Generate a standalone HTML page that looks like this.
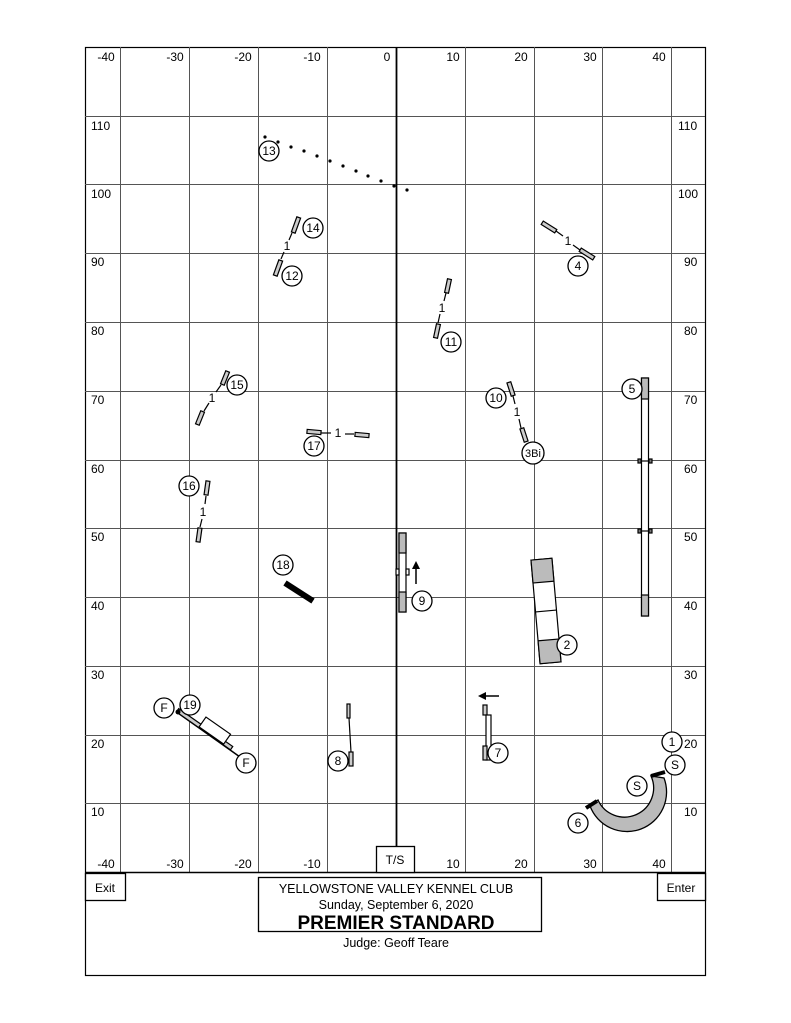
<!DOCTYPE html>
<html><head><meta charset="utf-8"><style>body{margin:0;background:#fff}svg{display:block}text{font-family:"Liberation Sans",sans-serif}</style></head><body>
<svg width="791" height="1023" viewBox="0 0 791 1023" xmlns="http://www.w3.org/2000/svg">
<rect x="85.5" y="47.5" width="620" height="928" fill="#fff" stroke="#000" stroke-width="1.2"/>
<g stroke="#555" stroke-width="1">
<line x1="120.5" y1="47" x2="120.5" y2="872"/><line x1="189.5" y1="47" x2="189.5" y2="872"/><line x1="258.5" y1="47" x2="258.5" y2="872"/><line x1="327.5" y1="47" x2="327.5" y2="872"/><line x1="465.5" y1="47" x2="465.5" y2="872"/><line x1="534.5" y1="47" x2="534.5" y2="872"/><line x1="602.5" y1="47" x2="602.5" y2="872"/><line x1="671.5" y1="47" x2="671.5" y2="872"/>
<line x1="85" y1="116.5" x2="705" y2="116.5"/><line x1="85" y1="184.5" x2="705" y2="184.5"/><line x1="85" y1="253.5" x2="705" y2="253.5"/><line x1="85" y1="322.5" x2="705" y2="322.5"/><line x1="85" y1="391.5" x2="705" y2="391.5"/><line x1="85" y1="460.5" x2="705" y2="460.5"/><line x1="85" y1="528.5" x2="705" y2="528.5"/><line x1="85" y1="597.5" x2="705" y2="597.5"/><line x1="85" y1="666.5" x2="705" y2="666.5"/><line x1="85" y1="735.5" x2="705" y2="735.5"/><line x1="85" y1="803.5" x2="705" y2="803.5"/>
</g>
<line x1="396.5" y1="47" x2="396.5" y2="846" stroke="#000" stroke-width="1.8"/>
<line x1="85" y1="872.5" x2="705" y2="872.5" stroke="#000" stroke-width="1.5"/>
<g font-size="12" fill="#000" text-anchor="middle">
<text x="106" y="61">-40</text><text x="175" y="61">-30</text><text x="243" y="61">-20</text><text x="312" y="61">-10</text><text x="387" y="61">0</text><text x="453" y="61">10</text><text x="521" y="61">20</text><text x="590" y="61">30</text><text x="659" y="61">40</text>
<text x="106" y="868">-40</text><text x="175" y="868">-30</text><text x="243" y="868">-20</text><text x="312" y="868">-10</text><text x="453" y="868">10</text><text x="521" y="868">20</text><text x="590" y="868">30</text><text x="659" y="868">40</text>
</g>
<g font-size="12" fill="#000">
<text x="91" y="130">110</text><text x="91" y="198">100</text><text x="91" y="266">90</text><text x="91" y="335">80</text><text x="91" y="404">70</text><text x="91" y="473">60</text><text x="91" y="541">50</text><text x="91" y="610">40</text><text x="91" y="679">30</text><text x="91" y="748">20</text><text x="91" y="816">10</text>
<text x="678" y="130">110</text><text x="678" y="198">100</text><text x="684" y="266">90</text><text x="684" y="335">80</text><text x="684" y="404">70</text><text x="684" y="473">60</text><text x="684" y="541">50</text><text x="684" y="610">40</text><text x="684" y="679">30</text><text x="684" y="748">20</text><text x="684" y="816">10</text>
</g>
<!-- 13 dotted -->
<g fill="#000">
<circle cx="265" cy="137" r="1.6"/><circle cx="278" cy="142" r="1.6"/><circle cx="291" cy="147" r="1.6"/><circle cx="304" cy="151" r="1.6"/><circle cx="317" cy="156" r="1.6"/><circle cx="330" cy="161" r="1.6"/><circle cx="343" cy="166" r="1.6"/><circle cx="356" cy="171" r="1.6"/><circle cx="368" cy="176" r="1.6"/><circle cx="381" cy="181" r="1.6"/><circle cx="394" cy="186" r="1.6"/><circle cx="407" cy="190" r="1.6"/>
</g>
<g stroke="#000" stroke-width="1.2" fill="#fff">
<!-- jumps -->
<rect x="-2" y="-8" width="4" height="16" transform="translate(296,225) rotate(20)" fill="#ccc"/>
<line x1="292" y1="233" x2="289" y2="240"/>
<rect x="-2" y="-8" width="4" height="16" transform="translate(278,268) rotate(20)" fill="#ccc"/>
<line x1="284" y1="252" x2="281" y2="259"/>
<rect x="-2" y="-8" width="4" height="16" transform="translate(549,227) rotate(-58)" fill="#ccc"/>
<line x1="556" y1="231" x2="563" y2="236"/>
<rect x="-2" y="-8" width="4" height="16" transform="translate(587,254) rotate(-58)" fill="#ccc"/>
<line x1="573" y1="245" x2="580" y2="250"/>
<rect x="-2" y="-7" width="4" height="14" transform="translate(448,286) rotate(12)" fill="#ccc"/>
<line x1="446" y1="293" x2="444" y2="301"/>
<rect x="-2" y="-7" width="4" height="14" transform="translate(437,331) rotate(12)" fill="#ccc"/>
<line x1="440" y1="314" x2="438" y2="323"/>
<rect x="-2" y="-7" width="4" height="14" transform="translate(225,378) rotate(22)" fill="#ccc"/>
<line x1="221" y1="385" x2="216" y2="392"/>
<rect x="-2" y="-7" width="4" height="14" transform="translate(200,418) rotate(22)" fill="#ccc"/>
<line x1="209" y1="403" x2="204" y2="411"/>
<rect x="-2" y="-7" width="4" height="14" transform="translate(511,389) rotate(-18)" fill="#ccc"/>
<line x1="513" y1="396" x2="515" y2="404"/>
<rect x="-2" y="-7" width="4" height="14" transform="translate(524,435) rotate(-18)" fill="#ccc"/>
<line x1="519" y1="419" x2="521" y2="428"/>
<rect x="-2" y="-7" width="4" height="14" transform="translate(314,432) rotate(95)" fill="#ccc"/>
<line x1="321" y1="433" x2="331" y2="433"/>
<rect x="-2" y="-7" width="4" height="14" transform="translate(362,435) rotate(95)" fill="#ccc"/>
<line x1="345" y1="434" x2="354" y2="434"/>
<rect x="-2" y="-7" width="4" height="14" transform="translate(207,488) rotate(8)" fill="#ccc"/>
<line x1="206" y1="496" x2="205" y2="504"/>
<rect x="-2" y="-7" width="4" height="14" transform="translate(199,535) rotate(8)" fill="#ccc"/>
<line x1="202" y1="519" x2="200" y2="527"/>
<!-- dogwalk 5 -->
<rect x="641.5" y="378" width="7" height="238"/>
<rect x="641.5" y="378" width="7" height="21" fill="#bbb"/>
<rect x="641.5" y="595" width="7" height="21" fill="#bbb"/>
<line x1="641" y1="461" x2="649" y2="461"/><line x1="641" y1="531" x2="649" y2="531"/>
<rect x="638" y="459" width="3" height="4" fill="#777"/><rect x="649" y="459" width="3" height="4" fill="#777"/>
<rect x="638" y="529" width="3" height="4" fill="#777"/><rect x="649" y="529" width="3" height="4" fill="#777"/>
<!-- seesaw 9 -->
<rect x="399" y="533" width="7" height="79"/>
<rect x="399" y="533" width="7" height="20" fill="#bbb"/>
<rect x="399" y="592" width="7" height="20" fill="#bbb"/>
<rect x="396" y="569" width="3" height="6"/><rect x="406" y="569" width="3" height="6"/>
<!-- A-frame 2 -->
<g transform="translate(546,611) rotate(-5)">
<rect x="-10.5" y="-52" width="21" height="104"/>
<rect x="-10.5" y="-52" width="21" height="23" fill="#bbb"/>
<rect x="-10.5" y="29" width="21" height="23" fill="#bbb"/>
<line x1="-10.5" y1="0" x2="10.5" y2="0"/>
</g>
<!-- 8 -->
<rect x="347" y="704" width="3" height="14" fill="#ccc"/>
<rect x="349" y="752" width="4" height="14" fill="#ccc"/>
<line x1="349" y1="718" x2="351" y2="752"/>
<!-- 7 -->
<rect x="483" y="705" width="4" height="10" fill="#ccc"/>
<rect x="486" y="715" width="5" height="45"/>
<rect x="483" y="746" width="4" height="14" fill="#ccc"/>
<!-- 19 -->
<line x1="178" y1="713" x2="240" y2="757" stroke-width="1.5"/>
<rect x="-3" y="-2" width="66" height="4" transform="translate(180,712) rotate(35)" fill="#ccc"/>
<rect x="-14" y="-6" width="30" height="12" transform="translate(214,730) rotate(35)"/>
</g>
<circle cx="178" cy="712" r="2.5" fill="#000"/>
<!-- 18 tunnel -->
<line x1="285" y1="583" x2="313" y2="601" stroke="#000" stroke-width="6"/>
<!-- arrows -->
<g stroke="#000" stroke-width="1.5" fill="#000">
<line x1="416" y1="584" x2="416" y2="567"/><polygon points="412,569 420,569 416,561" stroke="none"/>
<line x1="499" y1="696" x2="484" y2="696"/><polygon points="486,692 486,700 478,696" stroke="none"/>
</g>
<!-- tunnel 6 -->
<path d="M590,806 A38,38 0 0 0 664,778 L651,776 A26,26 0 0 1 598,800 Z" fill="#bbb" stroke="#000" stroke-width="1.3"/>
<line x1="586" y1="808" x2="597" y2="801" stroke="#000" stroke-width="4"/>
<line x1="651" y1="776" x2="665" y2="772" stroke="#000" stroke-width="4"/>
<!-- circles -->
<g stroke="#000" stroke-width="1.3" fill="#fff">
<circle cx="269" cy="151" r="10"/><circle cx="313" cy="228" r="10"/><circle cx="292" cy="276" r="10"/><circle cx="578" cy="266" r="10"/><circle cx="451" cy="342" r="10"/><circle cx="237" cy="385" r="10"/><circle cx="496" cy="398" r="10"/><circle cx="533" cy="453" r="11"/><circle cx="632" cy="389" r="10"/><circle cx="314" cy="446" r="10"/><circle cx="189" cy="486" r="10"/><circle cx="283" cy="565" r="10"/><circle cx="422" cy="601" r="10"/><circle cx="567" cy="645" r="10"/><circle cx="338" cy="761" r="10"/><circle cx="498" cy="753" r="10"/><circle cx="164" cy="708" r="10"/><circle cx="190" cy="705" r="10"/><circle cx="246" cy="763" r="10"/><circle cx="578" cy="823" r="10"/><circle cx="637" cy="786" r="10"/><circle cx="675" cy="765" r="10"/><circle cx="672" cy="742" r="10"/>
</g>
<g font-size="12" text-anchor="middle" fill="#000">
<text x="269" y="155">13</text><text x="313" y="232">14</text><text x="292" y="280">12</text><text x="578" y="270">4</text><text x="451" y="346">11</text><text x="237" y="389">15</text><text x="496" y="402">10</text><text x="533" y="457" font-size="11">3Bi</text><text x="632" y="393">5</text><text x="314" y="450">17</text><text x="189" y="490">16</text><text x="283" y="569">18</text><text x="422" y="605">9</text><text x="567" y="649">2</text><text x="338" y="765">8</text><text x="498" y="757">7</text><text x="164" y="712">F</text><text x="190" y="709">19</text><text x="246" y="767">F</text><text x="578" y="827">6</text><text x="637" y="790">S</text><text x="675" y="769">S</text><text x="672" y="746">1</text>
<text x="287" y="250">1</text><text x="568" y="245">1</text><text x="442" y="312">1</text><text x="212" y="402">1</text><text x="517" y="416">1</text><text x="338" y="437">1</text><text x="203" y="516">1</text>
</g>
<!-- bottom boxes -->
<rect x="376.5" y="846.5" width="38" height="26" fill="#fff" stroke="#000" stroke-width="1.3"/>
<text x="395" y="864" font-size="12" text-anchor="middle">T/S</text>
<rect x="85.5" y="873.5" width="40" height="27" fill="#fff" stroke="#000" stroke-width="1.3"/>
<text x="105" y="892" font-size="12" text-anchor="middle">Exit</text>
<rect x="657.5" y="873.5" width="48" height="27" fill="#fff" stroke="#000" stroke-width="1.3"/>
<text x="681" y="892" font-size="12" text-anchor="middle">Enter</text>
<rect x="258.5" y="877.5" width="283" height="54" fill="#fff" stroke="#000" stroke-width="1.3"/>
<g text-anchor="middle" fill="#000">
<text x="396" y="893" font-size="12.5">YELLOWSTONE VALLEY KENNEL CLUB</text>
<text x="396" y="909" font-size="12.5">Sunday, September 6,  2020</text>
<text x="396" y="932" font-size="19" font-weight="bold" dy="-3">PREMIER STANDARD</text>
<text x="396" y="949" font-size="12.5" dy="-2">Judge: Geoff Teare</text>
</g>
</svg>
</body></html>
